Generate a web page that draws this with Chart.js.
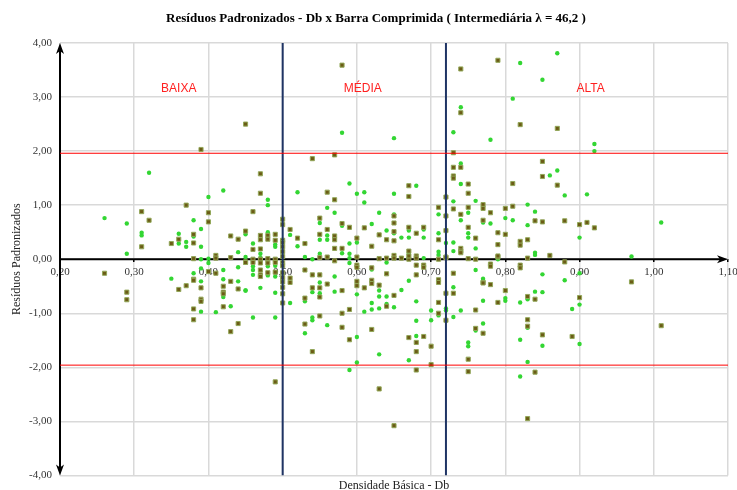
<!DOCTYPE html>
<html>
<head>
<meta charset="utf-8">
<script src="https://cdn.jsdelivr.net/npm/chart.js@4.4.1/dist/chart.umd.min.js"></script>
<style>
  html, body { margin: 0; background: #fff; }
  #wrap { width: 737px; height: 490px; }
</style>
</head>
<body>
<div id="wrap"><canvas id="chart"></canvas></div>
<script>
// DATA
// series 1: squares [Db, residual]
const squares = [
  [0.45,2.50],[0.39,2.03],[0.37,1.00],[0.31,0.88],[0.40,0.86],[0.32,0.72],[0.40,0.69],[0.38,0.46],[0.45,0.52],[0.43,0.43],
  [0.35,0.29],[0.36,0.37],[0.44,0.37],[0.38,0.30],[0.31,0.23],[0.38,0.01],[0.41,0.07],[0.41,0.02],[0.43,0.03],[0.45,-0.05],
  [0.26,-0.26],[0.29,-0.61],[0.29,-0.75],[0.36,-0.56],[0.37,-0.49],[0.38,-0.37],[0.38,-0.39],[0.38,-0.92],[0.38,-1.12],[0.39,-0.53],
  [0.39,-0.74],[0.39,-0.78],[0.40,-0.23],[0.41,-0.26],[0.42,-0.50],[0.42,-0.61],[0.42,-0.64],[0.42,-0.88],[0.43,-0.41],[0.43,-1.34],
  [0.44,-0.55],[0.44,-1.19],[0.45,-0.06],
  [0.58,3.59],[0.74,3.52],[0.74,2.71],[0.54,1.86],[0.57,1.93],[0.73,1.97],[0.47,1.58],[0.46,0.88],[0.47,1.22],[0.56,1.24],[0.57,1.10],
  [0.67,1.36],[0.67,1.16],[0.73,1.70],[0.73,1.54],[0.73,1.50],[0.74,1.70],[0.75,1.39],[0.75,1.22],[0.72,1.15],[0.71,0.96],
  [0.72,0.80],[0.73,0.93],[0.74,0.83],[0.75,0.96],[0.77,0.72],[0.72,0.53],[0.71,0.36],[0.74,0.20],[0.74,0.15],[0.75,0.59],
  [0.76,0.39],[0.75,0.01],[0.76,0.00],[0.72,0.04],[0.71,0.00],[0.69,0.59],[0.68,0.48],[0.67,0.59],[0.65,0.80],[0.65,0.67],
  [0.65,0.51],[0.65,0.34],[0.64,0.36],[0.63,0.45],[0.61,0.58],[0.62,0.24],[0.60,0.39],[0.59,0.59],[0.58,0.66],[0.57,0.43],
  [0.57,0.36],[0.56,0.55],[0.55,0.76],[0.55,0.46],[0.53,0.29],[0.52,0.39],[0.51,0.55],[0.50,0.74],[0.50,0.64],[0.50,0.35],
  [0.50,0.31],[0.50,0.23],[0.50,0.14],[0.50,0.05],[0.50,-0.06],[0.49,0.46],[0.49,0.35],[0.48,0.44],[0.48,0.37],[0.47,0.44],
  [0.47,0.36],[0.47,0.19],[0.46,0.18],[0.46,0.00],[0.46,-0.06],[0.48,0.01],[0.49,0.00],[0.58,0.20],[0.57,0.20],[0.57,-0.03],
  [0.60,0.04],[0.63,0.01],[0.64,0.02],[0.65,0.07],[0.65,0.02],[0.66,0.02],[0.67,0.15],[0.67,0.00],[0.68,0.06],[0.68,0.02],
  [0.55,0.03],[0.56,0.04],
  [0.47,0.00],[0.47,-0.07],[0.47,-0.20],[0.47,-0.29],[0.47,-0.32],[0.48,-0.07],[0.48,-0.25],[0.49,-0.06],[0.49,-0.24],[0.49,-2.27],
  [0.50,-0.12],[0.50,-0.25],[0.50,-0.34],[0.50,-0.42],[0.50,-0.52],[0.50,-0.64],[0.50,-0.81],[0.51,-0.35],[0.51,-0.43],[0.53,-0.20],
  [0.53,-0.72],[0.53,-1.20],[0.54,-0.29],[0.54,-0.53],[0.54,-1.71],[0.55,-0.29],[0.55,-0.53],[0.55,-0.70],[0.55,-1.05],[0.56,-0.46],
  [0.58,-0.58],[0.58,-1.00],[0.58,-1.26],[0.59,-0.93],[0.59,-1.49],[0.60,-0.11],[0.60,-0.15],[0.60,-0.41],[0.60,-0.49],[0.61,-0.53],
  [0.62,-0.16],[0.62,-0.39],[0.62,-0.45],[0.62,-1.30],[0.63,-0.48],[0.63,-2.40],[0.64,-0.27],[0.64,-0.87],[0.65,-0.67],[0.65,-3.08],
  [0.67,0.06],[0.67,-1.45],[0.68,-0.11],[0.68,-0.29],[0.68,-1.54],[0.68,-1.71],[0.68,-2.05],[0.69,-0.11],[0.69,-0.15],[0.69,-1.43],
  [0.70,-1.61],[0.70,-1.95],[0.71,-0.38],[0.71,-0.43],[0.71,-0.80],[0.71,-1.00],[0.72,0.03],[0.72,-0.63],[0.72,-1.13],[0.73,-0.26],
  [0.73,-0.63],[0.74,0.12],[0.75,-1.85],[0.75,-2.08],[0.76,-0.94],[0.76,-1.28],[0.77,-0.43],[0.78,-0.10],
  [0.79,3.68],[0.82,2.49],[0.87,2.42],[0.85,1.81],[0.85,1.53],[0.87,1.37],[0.81,1.40],[0.77,1.01],[0.77,0.94],[0.78,0.86],
  [0.80,0.94],[0.81,0.98],[0.84,0.71],[0.85,0.69],[0.88,0.71],[0.90,0.64],[0.91,0.68],[0.92,0.58],[0.79,0.49],[0.80,0.46],
  [0.79,0.27],[0.82,0.33],[0.82,0.26],[0.83,0.36],[0.86,0.07],[0.79,0.04],[0.83,0.02],[0.88,-0.05],[0.78,-0.09],[0.82,-0.11],
  [0.79,0.06],[0.78,-0.13],[0.82,-0.16],[0.97,-0.42],[0.77,-0.44],[0.78,-0.47],[0.80,-0.58],[0.79,-0.80],[0.83,-0.69],[0.84,-0.74],
  [0.90,-0.71],[0.77,-1.37],[0.83,-1.12],[0.83,-1.24],[0.85,-1.40],[0.89,-1.43],[1.01,-1.23],[0.84,-2.09],[0.83,-2.95]
];

// series 2: circles [Db, residual]
const circles = [
  [0.32,1.60],[0.42,1.27],[0.40,1.15],[0.26,0.76],[0.38,0.72],[0.29,0.66],[0.39,0.56],[0.31,0.49],[0.31,0.44],[0.36,0.47],
  [0.38,0.42],[0.45,0.46],[0.36,0.29],[0.37,0.32],[0.37,0.23],[0.39,0.23],[0.29,0.10],[0.44,0.13],[0.39,0.00],[0.40,0.01],
  [0.35,-0.36],[0.38,-0.26],[0.39,-0.17],[0.39,-0.41],[0.39,-0.97],[0.40,-0.07],[0.41,-0.98],[0.42,-0.20],[0.42,-0.37],[0.42,-0.70],
  [0.43,-0.87],[0.44,-0.15],[0.44,-0.41],[0.45,-0.58],
  [0.58,2.34],[0.65,2.24],[0.74,2.81],[0.73,2.35],[0.48,1.10],[0.48,1.00],[0.52,1.24],[0.59,1.40],[0.60,1.21],[0.61,1.24],
  [0.61,1.05],[0.65,1.21],[0.68,1.36],[0.74,1.77],[0.74,1.39],[0.73,1.07],[0.71,0.83],[0.74,0.72],[0.75,0.86],[0.76,1.08],
  [0.77,0.68],[0.73,0.31],[0.71,0.48],[0.72,0.30],[0.73,0.15],[0.75,0.48],[0.75,0.40],[0.76,0.20],[0.71,0.14],[0.69,0.55],
  [0.69,0.40],[0.67,0.53],[0.67,0.40],[0.66,0.40],[0.65,0.83],[0.65,0.48],[0.64,0.53],[0.63,0.86],[0.62,0.65],[0.60,0.31],
  [0.59,0.29],[0.59,0.58],[0.58,0.62],[0.57,0.86],[0.56,0.44],[0.56,0.36],[0.56,0.95],[0.55,0.67],[0.55,0.36],[0.53,0.04],
  [0.52,0.24],[0.51,0.45],[0.49,0.27],[0.49,0.23],[0.48,0.50],[0.47,0.10],[0.47,0.03],[0.46,0.29],[0.45,0.52],[0.45,0.04],
  [0.58,0.11],[0.59,0.10],[0.59,0.02],[0.67,0.10],[0.69,0.02],[0.55,0.10],[0.54,0.00],
  [0.45,-0.06],[0.46,-0.07],[0.46,-0.13],[0.46,-0.20],[0.46,-0.29],[0.45,-0.58],[0.46,-1.08],[0.47,-0.53],[0.48,-0.13],[0.48,-0.30],
  [0.49,-0.12],[0.49,-0.32],[0.49,-0.62],[0.49,-1.08],[0.51,-0.81],[0.53,-0.78],[0.53,-1.37],[0.54,-0.61],[0.54,-1.08],[0.54,-1.13],
  [0.55,-0.43],[0.55,-0.63],[0.56,-1.22],[0.57,-0.32],[0.57,-0.60],[0.59,-0.07],[0.59,-2.05],[0.60,-0.65],[0.60,-1.44],[0.60,-1.91],
  [0.61,-0.97],[0.62,-0.19],[0.62,-0.81],[0.62,-0.93],[0.63,-0.58],[0.63,-0.69],[0.63,-0.91],[0.63,-1.76],[0.64,-0.06],[0.64,-0.69],
  [0.64,-0.83],[0.65,-0.89],[0.66,-0.57],[0.67,-0.40],[0.67,-1.87],[0.68,-0.78],[0.68,-1.14],[0.68,-1.42],[0.70,-0.95],[0.70,-1.13],
  [0.71,0.08],[0.71,-1.04],[0.72,-0.91],[0.72,-0.95],[0.73,-0.52],[0.73,-1.07],[0.74,-0.95],[0.75,-1.54],[0.75,-1.61],[0.76,-0.20],
  [0.76,-1.32],[0.77,-0.36],[0.77,-0.77],
  [0.82,3.63],[0.87,3.81],[0.85,3.32],[0.81,2.97],[0.78,2.21],[0.92,2.13],[0.92,2.00],[0.86,1.55],[0.87,1.64],[0.88,1.18],
  [0.91,1.20],[0.83,1.01],[0.84,0.88],[1.01,0.68],[0.78,0.66],[0.80,0.76],[0.81,0.72],[0.83,0.63],[0.90,0.40],[0.84,0.12],
  [0.97,0.05],[0.79,0.00],[0.84,0.08],[0.90,-0.26],[0.85,-0.28],[0.88,-0.39],[0.77,-0.39],[0.80,-0.72],[0.80,-0.77],[0.82,-0.80],
  [0.83,-0.74],[0.85,-0.61],[0.84,-0.60],[0.90,-0.84],[0.89,-0.92],[0.77,-1.19],[0.83,-1.27],[0.82,-1.49],[0.85,-1.60],[0.90,-1.57],
  [0.83,-1.90],[0.82,-2.17]
];

const xRange = [0.20, 1.10];
const yRange = [-4, 4];
const limits = [1.96, -1.96];       // red lines
const classBounds = [0.50, 0.72];   // blue lines
const zoneNames = ["BAIXA", "MÉDIA", "ALTA"];
const zoneDb = [0.36, 0.608, 0.915];
const zoneRes = 3.15;

const fmt = v => v.toFixed(2).replace(".", ",");
const serif = "'Liberation Serif', 'Times New Roman', serif";

const datasets = [];

limits.forEach(l => {
  datasets.push({
    type: "line",
    data: [{ x: xRange[0], y: l }, { x: xRange[1], y: l }],
    borderColor: "#ff0000",
    borderWidth: 1,
    pointRadius: 0
  });
});

classBounds.forEach(b => {
  datasets.push({
    type: "line",
    data: [{ x: b, y: yRange[0] }, { x: b, y: yRange[1] }],
    borderColor: "#1f3464",
    borderWidth: 2,
    pointRadius: 0
  });
});

datasets.push({
  type: "scatter",
  data: squares.map(p => ({ x: p[0], y: p[1] })),
  pointStyle: "rect",
  pointRadius: 2.9,
  backgroundColor: "#6b5c16",
  borderColor: "#93a85a",
  borderWidth: 1
});

datasets.push({
  type: "scatter",
  data: circles.map(p => ({ x: p[0], y: p[1] })),
  pointStyle: "circle",
  pointRadius: 2.2,
  backgroundColor: "#33d633",
  borderWidth: 0
});

// axes with arrows, titles, zone labels
const decor = {
  id: "decor",
  beforeDatasetsDraw(chart) {
    const { ctx, chartArea: a, scales: { x, y } } = chart;
    const y0 = y.getPixelForValue(0);
    ctx.save();
    ctx.strokeStyle = "#000";
    ctx.fillStyle = "#000";
    ctx.lineWidth = 2;
    ctx.beginPath();
    ctx.moveTo(a.left, a.top + 4);
    ctx.lineTo(a.left, a.bottom - 4);
    ctx.moveTo(a.left, y0);
    ctx.lineTo(a.right - 4, y0);
    ctx.stroke();
    // arrow heads
    const head = (pts) => {
      ctx.beginPath();
      ctx.moveTo(pts[0][0], pts[0][1]);
      for (let i = 1; i < pts.length; i++) ctx.lineTo(pts[i][0], pts[i][1]);
      ctx.closePath();
      ctx.fill();
    };
    head([[a.left, a.top], [a.left - 4, a.top + 11], [a.left, a.top + 8], [a.left + 4, a.top + 11]]);
    head([[a.left, a.bottom], [a.left - 4, a.bottom - 11], [a.left, a.bottom - 8], [a.left + 4, a.bottom - 11]]);
    head([[a.right, y0], [a.right - 11, y0 - 4], [a.right - 8, y0], [a.right - 11, y0 + 4]]);
    ctx.restore();
  },
  afterDraw(chart) {
    const { ctx, chartArea: a, scales: { x, y } } = chart;
    ctx.save();
    ctx.textAlign = "center";
    ctx.textBaseline = "middle";
    ctx.fillStyle = "#000";
    ctx.font = "bold 13px " + serif;
    ctx.fillText("Resíduos Padronizados - Db x Barra Comprimida ( Intermediária λ = 46,2 )", 376, 19);
    ctx.fillStyle = "#222";
    ctx.font = "12px " + serif;
    ctx.fillText("Densidade Básica - Db", (a.left + a.right) / 2, 486);
    ctx.fillStyle = "#ff2020";
    ctx.font = "12px 'Liberation Sans', Arial, sans-serif";
    zoneNames.forEach((n, i) => {
      ctx.fillText(n, x.getPixelForValue(zoneDb[i]), y.getPixelForValue(zoneRes));
    });
    ctx.restore();
  }
};

new Chart(document.getElementById("chart"), {
  data: { datasets },
  plugins: [decor],
  options: {
    responsive: true,
    maintainAspectRatio: false,
    animation: false,
    layout: { padding: { left: 0, right: 9, top: 43, bottom: 9 } },
    plugins: { legend: { display: false }, tooltip: { enabled: false } },
    scales: {
      x: {
        type: "linear",
        min: xRange[0],
        max: xRange[1],
        position: { y: 0 },
        ticks: {
          stepSize: 0.1,
          callback: v => fmt(v),
          font: { family: serif, size: 11 },
          color: "#333",
          padding: 3,
          maxRotation: 0,
          autoSkip: false
        },
        grid: { color: "#d9d9d9", lineWidth: 1.5, tickColor: "#000", tickLength: 3 },
        border: { display: false },
        // axis sits on y = 0, so it should not take room at the bottom
        afterFit: s => { s.height = 0; s.paddingLeft = 0; s.paddingRight = 0; }
      },
      y: {
        min: yRange[0],
        max: yRange[1],
        ticks: {
          stepSize: 1,
          callback: v => fmt(v),
          font: { family: serif, size: 11 },
          color: "#333",
          padding: 8
        },
        grid: { color: "#d9d9d9", lineWidth: 1.5, drawTicks: false },
        border: { display: false },
        title: {
          display: true,
          text: "Resíduos Padronizados",
          font: { family: serif, size: 12 },
          color: "#222",
          padding: { top: 10, bottom: 0 }
        },
        afterFit: s => { s.width = 60; }
      }
    }
  }
});
</script>
</body>
</html>
